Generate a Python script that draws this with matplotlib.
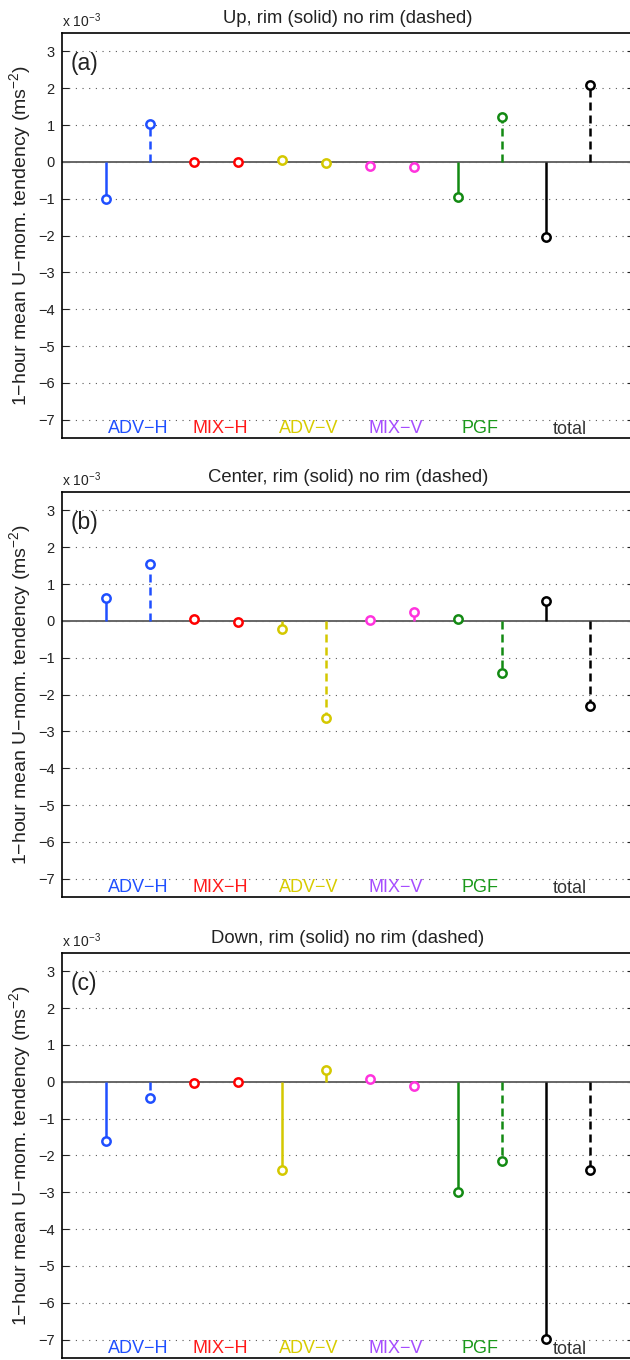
import matplotlib
matplotlib.use('Agg')
import matplotlib.pyplot as plt

plt.rcParams['font.family'] = ['Liberation Sans', 'DejaVu Sans']
plt.rcParams['mathtext.fontset'] = 'custom'
plt.rcParams['mathtext.rm'] = 'Liberation Sans'
plt.rcParams['mathtext.it'] = 'Liberation Sans:italic'

# terms, each one has a rim (solid) and a no rim (dashed) stem
terms = ['ADV\u2212H', 'MIX\u2212H', 'ADV\u2212V', 'MIX\u2212V', 'PGF', 'total']
stem_colors = ['#1f4fff', '#ff0000', '#d4c800', '#ff33dd', '#138a13', '#000000']
label_colors = ['#2050ff', '#ff1a1a', '#d8cc00', '#a64dff', '#1a991a', '#333333']
label_x = [1.06, 2.97, 4.94, 6.98, 9.09, 11.16]

# values in units of 1e-3 m s^-2, order: term1 rim, term1 no rim, term2 rim, ...
up_vals = [-1.02, 1.02, 0.0, 0.0, 0.05, -0.02, -0.10, -0.13, -0.95, 1.23, -2.05, 2.10]
center_vals = [0.61, 1.55, 0.06, -0.03, -0.22, -2.65, 0.03, 0.25, 0.06, -1.42, 0.53, -2.30]
down_vals = [-1.62, -0.45, -0.02, 0.0, -2.40, 0.32, 0.07, -0.12, -3.00, -2.15, -6.98, -2.40]

panels = [('Up', '(a)', up_vals),
          ('Center', '(b)', center_vals),
          ('Down', '(c)', down_vals)]

yticks = list(range(-7, 4))

fig = plt.figure(figsize=(6.3, 13.6), dpi=100)
bottoms = [0.6779, 0.3404, 0.0015]

for (name, letter, vals), b in zip(panels, bottoms):
    ax = fig.add_axes([0.098, b, 0.908, 0.2978])
    ax.set_xlim(0, 13)
    ax.set_ylim(-7.5, 3.5)
    ax.set_xticks([])
    ax.set_yticks(yticks)
    ax.tick_params(axis='y', direction='in', length=5, width=0.8, pad=5,
                   labelsize=10.5, right=True, colors='#222222')
    ax.yaxis.grid(True, linestyle=(0, (1.0, 5.0)), color='0.35', linewidth=0.8)
    ax.set_axisbelow(True)
    for s in ax.spines.values():
        s.set_linewidth(1.2)
    ax.axhline(0, color='0.4', linewidth=1.4, zorder=1.5)

    for i, v in enumerate(vals):
        c = stem_colors[i // 2]
        ls = '-' if i % 2 == 0 else (0, (3.2, 2.0))
        ml, sl, bl = ax.stem([i + 1], [v], basefmt=' ')
        sl.set_color(c)
        sl.set_linestyle(ls)
        sl.set_linewidth(1.8)
        sl.set_zorder(3)
        ml.set_color(c)
        ml.set_marker('o')
        ml.set_markersize(6)
        ml.set_markerfacecolor('white')
        ml.set_markeredgewidth(1.8)
        ml.set_zorder(4)

    for t, x, lc in zip(terms, label_x, label_colors):
        yb = -7.4 if t == 'total' else -7.36
        ax.text(x, yb, t, color=lc, fontsize=13, ha='left', va='baseline')

    ax.text(0.2, 2.66, letter, fontsize=16.5, ha='left', va='center', color='#222222')
    ax.text(0, 1.015, 'x 10$^{-3}$', transform=ax.transAxes, fontsize=10,
            ha='left', va='baseline', color='#222222')
    ax.set_title(name + ', rim (solid) no rim (dashed)', fontsize=13.3,
                 pad=7.4, color='#222222')
    ax.set_ylabel('1\u2212hour mean U\u2212mom. tendency (ms$^{-2}$)',
                  fontsize=14, color='#222222')
    ax.yaxis.set_label_coords(-0.05, 0.5)

fig.savefig('out.png', dpi=100)
